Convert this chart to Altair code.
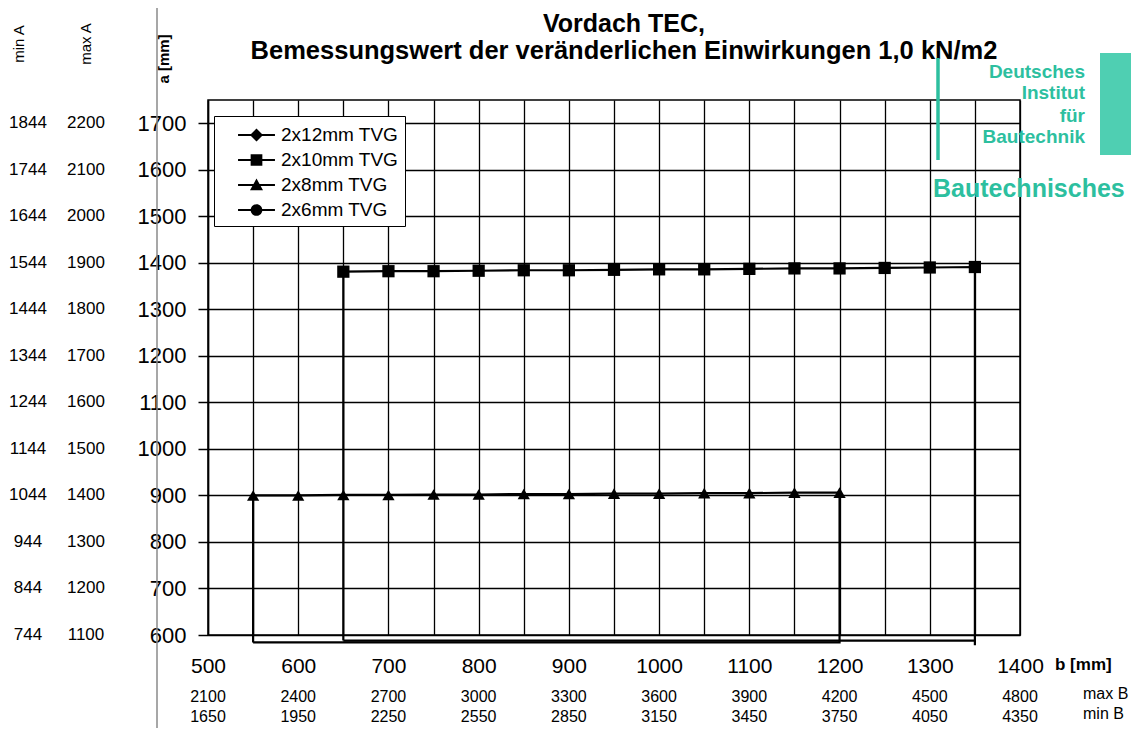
import altair as alt
import pandas as pd

FONT = "Liberation Sans"
GREEN = "#2dbf9f"

# ---------------- data ----------------
series_names = ["2x12mm TVG", "2x10mm TVG", "2x8mm TVG", "2x6mm TVG"]

b_8 = [550, 600, 650, 700, 750, 800, 850, 900, 950, 1000, 1050, 1100, 1150, 1200]
a_8 = [900, 900, 901, 901, 902, 902, 903, 903, 904, 904, 905, 905, 906, 906]
bottom_8 = 584

b_10 = [650, 700, 750, 800, 850, 900, 950, 1000, 1050, 1100, 1150, 1200, 1250, 1300, 1350]
a_10 = [1381, 1382, 1382, 1383, 1384, 1384, 1385, 1386, 1386, 1387, 1388, 1388, 1389, 1390, 1391]
bottom_10 = 588
drop_10 = 578

x_ticks = list(range(500, 1401, 50))
y_ticks = list(range(600, 1751, 50))

a_label_vals = [600, 700, 800, 900, 1000, 1100, 1200, 1300, 1400, 1500, 1600, 1700]
min_A = [744, 844, 944, 1044, 1144, 1244, 1344, 1444, 1544, 1644, 1744, 1844]
max_A = [1100, 1200, 1300, 1400, 1500, 1600, 1700, 1800, 1900, 2000, 2100, 2200]

b_label_vals = [500, 600, 700, 800, 900, 1000, 1100, 1200, 1300, 1400]
max_B = [2100, 2400, 2700, 3000, 3300, 3600, 3900, 4200, 4500, 4800]
min_B = [1650, 1950, 2250, 2550, 2850, 3150, 3450, 3750, 4050, 4350]

# ---------------- tables ----------------
out8_b = [b_8[0]] + b_8 + [b_8[-1], b_8[0]]
out8_a = [bottom_8] + a_8 + [bottom_8, bottom_8]
out10_b = [b_10[0]] + b_10 + [b_10[-1], b_10[-1], b_10[0]]
out10_a = [bottom_10] + a_10 + [drop_10, bottom_10, bottom_10]

outline = pd.DataFrame({
    "b": out8_b + out10_b,
    "a": out8_a + out10_a,
    "s": ["2x8mm TVG"] * len(out8_b) + ["2x10mm TVG"] * len(out10_b),
    "o": list(range(len(out8_b))) + list(range(len(out10_b))),
})
points = pd.DataFrame({
    "b": b_8 + b_10,
    "a": a_8 + a_10,
    "m": ["2x8mm TVG"] * len(b_8) + ["2x10mm TVG"] * len(b_10),
})

xs = alt.Scale(domain=[500, 1400], nice=False, zero=False)
ys = alt.Scale(domain=[600, 1750], nice=False, zero=False)

x_axis = alt.Axis(values=x_ticks, format="d",
                  labelExpr="datum.value % 100 === 0 ? datum.label : ''",
                  ticks=False, domain=False, grid=True, gridColor="black",
                  gridWidth=1.3, gridOpacity=1, labelFontSize=21, labelFont=FONT,
                  labelColor="black", labelPadding=20, labelOverlap=False,
                  labelFlush=False, labelBound=False, title=None)
y_axis = alt.Axis(values=y_ticks, format="d",
                  labelExpr="datum.value % 100 === 0 ? datum.label : ''",
                  tickSize=10, tickWidth=1.5,
                  tickColor={"condition": {"test": "datum.value % 100 === 0", "value": "black"},
                             "value": "transparent"},
                  domain=True, domainColor="black", domainWidth=1.5,
                  grid=True, gridColor="black", gridWidth=1.3, gridOpacity=1,
                  labelFontSize=22, labelFont=FONT, labelColor="black",
                  labelPadding=12, labelOverlap=False, labelFlush=False,
                  labelBound=False, title=None)

lines = alt.Chart(outline).mark_line(color="black", strokeWidth=2.2, clip=False).encode(
    x=alt.X("b:Q", scale=xs, axis=x_axis),
    y=alt.Y("a:Q", scale=ys, axis=y_axis),
    detail="s:N",
    order="o:Q",
)

markers = alt.Chart(points).mark_point(filled=True, color="black", opacity=1, size=150).encode(
    x=alt.X("b:Q", scale=xs),
    y=alt.Y("a:Q", scale=ys),
    shape=alt.Shape("m:N", scale=alt.Scale(domain=series_names,
                                           range=["diamond", "square", "triangle-up", "circle"]),
                    legend=None),
)

# legend symbols: a thin filled bar (the line) plus the filled marker
BAR = "M-1.42,-0.075H1.42V0.075H-1.42Z"
legend_paths = [
    BAR + "M0,-0.5L0.5,0L0,0.5L-0.5,0Z",
    BAR + "M-0.45,-0.45H0.45V0.45H-0.45Z",
    BAR + "M0,-0.5L0.5,0.4H-0.5Z",
    BAR + "M0.45,0A0.45,0.45,0,1,1,-0.45,0A0.45,0.45,0,1,1,0.45,0Z",
]
legend_layer = alt.Chart(pd.DataFrame({"s": series_names})).mark_point(
    filled=True, clip=True, size=676, color="black", opacity=1
).encode(
    x=alt.value(-1000), y=alt.value(-1000),
    shape=alt.Shape("s:N", scale=alt.Scale(domain=series_names, range=legend_paths),
                    legend=alt.Legend(title=None, orient="none", legendX=6, legendY=16,
                                      padding=6, fillColor="white", strokeColor="black",
                                      labelFontSize=19, labelFont=FONT, labelColor="black",
                                      symbolOffset=23.5, labelOffset=11.5, rowPadding=2,
                                      symbolSize=676, symbolStrokeWidth=0,
                                      symbolFillColor="black")),
)

# side columns (min A / max A) aligned with the a-scale
side_df = pd.DataFrame({"a": a_label_vals, "minA": min_A, "maxA": max_A})
col_minA = alt.Chart(side_df).mark_text(fontSize=17, font=FONT, color="black").encode(
    y=alt.Y("a:Q", scale=ys), x=alt.value(-180), text="minA:N")
col_maxA = alt.Chart(side_df).mark_text(fontSize=17, font=FONT, color="black").encode(
    y=alt.Y("a:Q", scale=ys), x=alt.value(-122), text="maxA:N")

bot_df = pd.DataFrame({"b": b_label_vals, "maxB": max_B, "minB": min_B})
row_maxB = alt.Chart(bot_df).mark_text(fontSize=16, font=FONT, color="black").encode(
    x=alt.X("b:Q", scale=xs), y=alt.value(597), text="maxB:N")
row_minB = alt.Chart(bot_df).mark_text(fontSize=16, font=FONT, color="black").encode(
    x=alt.X("b:Q", scale=xs), y=alt.value(617), text="minB:N")


def label(text, x, y, size=16, weight="normal", color="black", align="center", angle=0):
    return alt.Chart(pd.DataFrame({"t": [text]})).mark_text(
        align=align, baseline="middle", fontSize=size, fontWeight=weight,
        color=color, angle=angle, font=FONT
    ).encode(x=alt.value(x), y=alt.value(y), text="t:N")


def vrule(x, y1, y2, color, w):
    return alt.Chart(pd.DataFrame({"k": [0]})).mark_rule(color=color, strokeWidth=w).encode(
        x=alt.value(x), y=alt.value(y1), y2=alt.value(y2))


def hrule(y, x1, x2, color, w):
    return alt.Chart(pd.DataFrame({"k": [0]})).mark_rule(color=color, strokeWidth=w).encode(
        y=alt.value(y), x=alt.value(x1), x2=alt.value(x2))


stamp_block = alt.Chart(pd.DataFrame({"k": [0]})).mark_rect(color="#4fcfb2").encode(
    x=alt.value(892), x2=alt.value(940), y=alt.value(-47), y2=alt.value(55))

annotations = [
    vrule(-51, -100, 636, "#8a8a8a", 1.5),
    hrule(-96, -208, 935, "#333333", 1.5),
    label("Vordach TEC,", 416, -76, 25, "bold"),
    label("Bemessungswert der veränderlichen Einwirkungen 1,0 kN/m2", 416, -49, 25.5, "bold"),
    label("min A", -189, -56, 15, angle=270),
    label("max A", -122, -56, 15, angle=270),
    label("a [mm]", -44, -41, 15, "bold", angle=270),
    label("b [mm]", 847, 565, 17, "bold", align="left"),
    label("max B", 875, 594, 16, align="left"),
    label("min B", 875, 614, 16, align="left"),
    vrule(730, -42, 60, GREEN, 3.5),
    stamp_block,
    label("Deutsches", 877, -28, 19, "bold", GREEN, "right"),
    label("Institut", 877, -7, 19, "bold", GREEN, "right"),
    label("für", 877, 16, 19, "bold", GREEN, "right"),
    label("Bautechnik", 877, 37, 19, "bold", GREEN, "right"),
    label("Bautechnisches", 725, 89, 25, "bold", GREEN, "left"),
]

chart = alt.layer(
    lines, markers, legend_layer, col_minA, col_maxA, row_maxB, row_minB, *annotations
).resolve_scale(shape="independent").properties(
    width=812, height=535,
    autosize=alt.AutoSizeParams(type="none"),
    padding={"left": 200, "top": 92, "right": 111, "bottom": 93},
    background="white",
).configure_view(stroke="black", strokeWidth=1.5)

chart.save("out.html", embed_options={"renderer": "svg", "actions": False})
